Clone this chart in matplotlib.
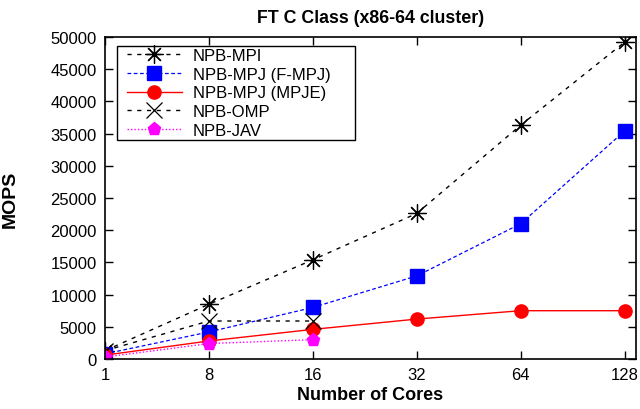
import matplotlib
matplotlib.use("Agg")
import matplotlib.pyplot as plt
from matplotlib.patches import Rectangle

plt.rcParams['font.family'] = ['Liberation Sans', 'DejaVu Sans']

cores = ["1", "8", "16", "32", "64", "128"]
mpi = [1300, 8500, 15400, 22600, 36300, 49200]
fmpj = [800, 4200, 8000, 12900, 21000, 35400]
mpje = [600, 2800, 4600, 6200, 7500, 7500]
omp = [1300, 5900, 5900]
jav = [300, 2400, 3000]

title = "FT C Class (x86-64 cluster)"
xlabel = "Number of Cores"
ylabel = "MOPS"
yticks = [0, 5000, 10000, 15000, 20000, 25000, 30000, 35000, 40000, 45000, 50000]

fig = plt.figure(figsize=(6.4, 4.1), dpi=100)
ax = fig.add_axes([105/640, 1-360/410, (636-105)/640, (360-38)/410])

x = list(range(len(cores)))
ax.plot(x, mpi, color='black', ls=(0, (3, 4)), lw=1, marker=(8, 2, 0), ms=13, mew=0.9,
        label='NPB-MPI')
ax.plot(x, fmpj, color='blue', ls=(0, (3, 2)), lw=0.9, marker='s', ms=10, mfc='blue', mec='blue',
        label='NPB-MPJ (F-MPJ)')
ax.plot(x, mpje, color='red', ls='-', lw=1, marker='o', ms=9.5, mfc='red', mec='red',
        label='NPB-MPJ (MPJE)')
ax.plot(x[:len(omp)], omp, color='black', ls=(0, (3, 4)), lw=1, marker='x', ms=12, mew=0.9,
        label='NPB-OMP')
ax.plot(x[:len(jav)], jav, color='magenta', ls=(0, (1, 1.5)), lw=1, marker='p', ms=9.5,
        mfc='magenta', mec='magenta', label='NPB-JAV')

ax.set_xlim(0, 5.11)
ax.set_ylim(0, 50000)
ax.set_xticks(x)
ax.set_xticklabels(cores)
ax.set_yticks(yticks)
ax.tick_params(direction='in', length=6, width=1, top=True, right=True,
               labelsize=12, pad=6, colors='black')
for s in ax.spines.values():
    s.set_linewidth(1.2)
    s.set_color('black')

ax.set_title(title, fontsize=12.8, fontweight='bold', pad=11)
ax.set_xlabel(xlabel, fontsize=13, fontweight='bold', labelpad=3)
ax.set_ylabel(ylabel, fontsize=14, fontweight='bold')
ax.yaxis.set_label_coords(-86/531, 0.5)

# legend frame drawn separately so the padding matches the reference
frame = Rectangle((11.7/531, 1-(140.7-38)/322), 238.3/531, 94/322,
                  transform=ax.transAxes, facecolor='white', edgecolor='black',
                  lw=1.0, zorder=4)
ax.add_patch(frame)
leg = ax.legend(loc='upper left', bbox_to_anchor=(21.7/531, 1-(49.0-38)/322),
                borderaxespad=0, borderpad=0,
                fontsize=12, handlelength=3.3, handletextpad=0.66, labelspacing=0.22,
                frameon=False)
leg.set_zorder(5)

fig.savefig('out.png', dpi=100)
